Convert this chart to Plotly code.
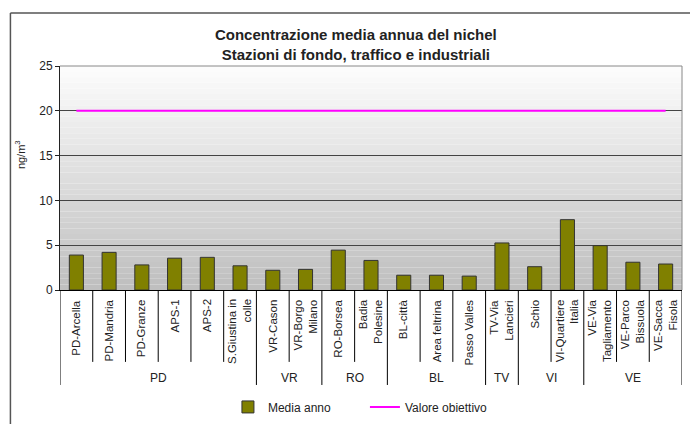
import plotly.graph_objects as go

stazioni = [
    'PD-Arcella', 'PD-Mandria', 'PD-Granze', 'APS-1', 'APS-2', 'S.Giustina in<br>colle',
    'VR-Cason', 'VR-Borgo<br>Milano', 'RO-Borsea', 'Badia<br>Polesine',
    'BL-città', 'Area feltrina', 'Passo Valles', 'TV-Via<br>Lancieri',
    'Schio', 'VI-Quartiere<br>Italia', 'VE-Via<br>Tagliamento', 'VE-Parco<br>Bissuola',
    'VE-Sacca<br>Fisola',
]
province = ['PD'] * 6 + ['VR'] * 2 + ['RO'] * 2 + ['BL'] * 3 + ['TV'] + ['VI'] * 2 + ['VE'] * 3
media_anno = [3.9, 4.2, 2.8, 3.55, 3.65, 2.7, 2.2, 2.3, 4.45, 3.3,
              1.65, 1.65, 1.55, 5.25, 2.6, 7.85, 4.95, 3.1, 2.9]
valore_obiettivo = [20] * len(stazioni)

_FONT = 'Liberation Sans, Arial, sans-serif'
_TXT = '#222222'

fig = go.Figure()

fig.add_trace(go.Bar(
    x=stazioni, y=media_anno, name='Media anno',
    marker=dict(color='#808000', line=dict(color='#333333', width=1)),
))
fig.add_trace(go.Scatter(
    x=stazioni, y=valore_obiettivo, name='Valore obiettivo',
    mode='lines', line=dict(color='#ff00ff', width=2),
))

shapes = []

# sfondo sfumato (bianco in alto, grigio in basso)
n_strisce = 40
for k in range(n_strisce):
    t = (k + 0.5) / n_strisce
    c = int(round(0xbe + (0xfd - 0xbe) * t))
    shapes.append(dict(
        type='rect', xref='x domain', yref='y domain',
        x0=0, x1=1, y0=k / n_strisce, y1=(k + 1) / n_strisce,
        fillcolor=f'rgb({c},{c},{c})', line=dict(width=0), layer='below',
    ))

# cornice esterna (solo lato sinistro e superiore sono visibili)
shapes.append(dict(type='line', xref='paper', yref='paper',
                   x0=-0.0797, x1=1.2, y0=1.2366, y1=1.2366,
                   line=dict(color='#555555', width=1.5)))
shapes.append(dict(type='line', xref='paper', yref='paper',
                   x0=-0.0797, x1=-0.0797, y0=-1.0, y1=1.2366,
                   line=dict(color='#555555', width=1.5)))

# divisori etichette: tra stazioni (corti) e tra province (lunghi)
n = len(stazioni)
for i in range(n + 1):
    nuovo_gruppo = i == 0 or i == n or province[i] != province[i - 1]
    shapes.append(dict(
        type='line', xref='x', yref='paper',
        x0=i - 0.5, x1=i - 0.5, y0=0, y1=-0.424 if nuovo_gruppo else -0.321,
        line=dict(color='#000000', width=1),
    ))

# bordo destro e superiore dell'area del grafico
shapes.append(dict(type='line', xref='paper', yref='paper', x0=1, x1=1, y0=0, y1=1,
                   line=dict(color='#888888', width=1)))
shapes.append(dict(type='line', xref='paper', yref='paper', x0=0, x1=1, y0=1, y1=1,
                   line=dict(color='#888888', width=1)))

annotations = []
for s in stazioni:
    annotations.append(dict(
        x=s, xref='x', y=-0.033, yref='paper',
        text=s, textangle=-90, showarrow=False,
        xanchor='center', yanchor='top', align='right',
        font=dict(family=_FONT, size=11.5, color=_TXT),
    ))

# etichette provincia, centrate sul proprio gruppo
inizio = 0
for i in range(1, n + 1):
    if i == n or province[i] != province[inizio]:
        annotations.append(dict(
            x=(inizio + i - 1) / 2, xref='x', y=-0.393, yref='paper',
            text=province[inizio], showarrow=False,
            xanchor='center', yanchor='middle',
            font=dict(family=_FONT, size=12, color=_TXT),
        ))
        inizio = i

# titolo asse y
annotations.append(dict(
    x=-0.064, xref='paper', y=0.603, yref='paper',
    text='ng/m<sup>3</sup>', textangle=-90, showarrow=False,
    xanchor='center', yanchor='middle',
    font=dict(family=_FONT, size=11, color=_TXT),
))

fig.update_layout(
    width=682, height=416,
    margin=dict(l=52, r=8, t=58, b=134, autoexpand=False),
    paper_bgcolor='white', plot_bgcolor='white',
    font=dict(family=_FONT, size=12, color=_TXT),
    title=dict(
        text='<b>Concentrazione media annua del nichel<br>Stazioni di fondo, traffico e industriali</b>',
        x=0.51, xanchor='center', y=0.923, yanchor='middle',
        font=dict(family=_FONT, size=15, color=_TXT),
    ),
    bargap=0.57,
    showlegend=True,
    legend=dict(
        orientation='h', x=0.27, xanchor='left', y=-0.522, yanchor='middle',
        font=dict(family=_FONT, size=12, color=_TXT),
        entrywidth=92, bgcolor='rgba(0,0,0,0)',
    ),
    shapes=shapes,
    annotations=annotations,
)

fig.update_xaxes(
    type='category', showticklabels=False, ticks='', automargin=False,
    showgrid=False, showline=True, linecolor='#000000', linewidth=1,
    range=[-0.5, n - 0.5], mirror=False,
)
fig.update_yaxes(
    range=[0, 25], dtick=5, tick0=0, automargin=False,
    showgrid=True, gridcolor='#444444', gridwidth=1,
    showline=True, linecolor='#222222', linewidth=1,
    ticks='outside', ticklen=4, tickcolor='#222222',
    zeroline=False,
    tickfont=dict(family=_FONT, size=12, color=_TXT),
)

fig.write_html('out.html')
